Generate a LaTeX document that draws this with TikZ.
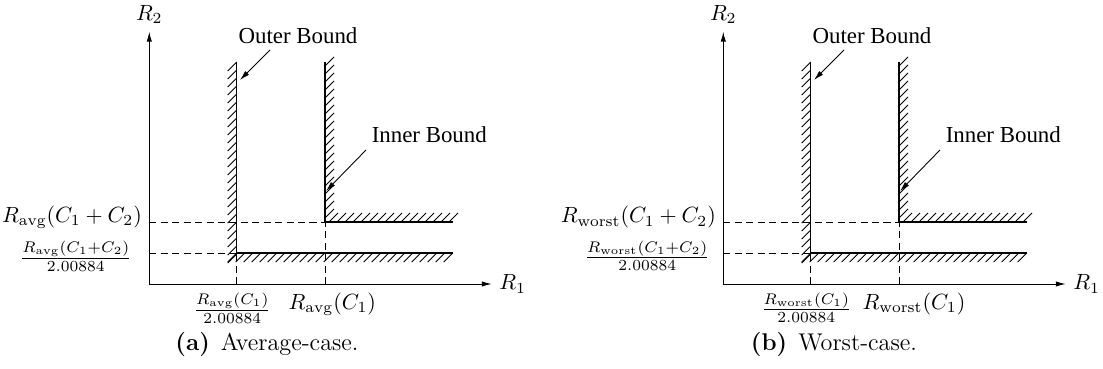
\documentclass[tikz,border=0pt]{standalone}
\usepackage{amsmath,amssymb}
\usepackage{fontspec}
\newfontfamily\timesfont{Liberation Serif}
\usetikzlibrary{positioning,calc,arrows.meta}
\tikzset{>={Latex[length=4.5pt,width=2.4pt]}}
\tikzset{hatch/.style={line width=0.4pt}}
\tikzset{bound/.style={line width=0.5pt}}
\tikzset{guide/.style={line width=0.4pt,dash pattern=on 3.2pt off 2pt}}
\tikzset{boundlbl/.style={font=\timesfont\fontsize{10.4}{12}\selectfont}}
\tikzset{caplbl/.style={font=\fontsize{11}{13}\selectfont}}

\begin{document}
\begin{tikzpicture}[x=0.4545pt,y=0.4545pt]
	\useasboundingbox (0,0) rectangle (1103,369);
	\foreach \sx/\sub/\tg/\cpt/\fx/\cx in {149.3/avg/a/Average-case./-17/117.7, 723.3/worst/b/Worst-case./-13/110.7}{
	\begin{scope}[shift={(\sx,85)}]
		\coordinate (o) at (0,0);
		\coordinate (xend) at (342.4,0);
		\coordinate (yend) at (0,252.3);
		\draw[->] (o) -- (xend);
		\draw[->] (o) -- (yend);
		\node[right] (xlbl) at (xend) {$R_1$};
		\node[above] (ylbl) at (yend) {$R_2$};
		% outer bound
		\coordinate (otop) at (87.4,222);
		\coordinate (ocorner) at (87.4,31);
		\coordinate (oend) at (303.7,31);
		\foreach \y in {30,38,...,222} \draw[hatch] (87.4,\y) -- ++(-9,-9);
		\foreach \x in {87.4,95.4,...,304} \draw[hatch] (\x,31) -- ++(-9,-9);
		\draw[bound] (otop) -- (ocorner) -- (oend);
		% inner bound
		\coordinate (itop) at (175.7,222);
		\coordinate (icorner) at (175.7,62);
		\coordinate (iend) at (303.7,62);
		\foreach \y in {66,74,...,218} \draw[hatch] (175.7,\y) -- ++(9,9);
		\foreach \x in {179.7,187.7,...,300} \draw[hatch] (\x,62) -- ++(9,9);
		\draw[bound] (itop) -- (icorner) -- (iend);
		% guides
		\coordinate (ysum) at (0,62);
		\coordinate (yhalf) at (0,31);
		\coordinate (xhalf) at (87.4,0);
		\coordinate (xone) at (175.7,0);
		\draw[guide] (ysum) -- (icorner);
		\draw[guide] (yhalf) -- (ocorner);
		\draw[guide] (xhalf) -- (ocorner);
		\draw[guide] (xone) -- (icorner);
		% tick labels
		\node[anchor=east,inner sep=0pt] (ysumlbl) at (-7,66.5) {$R_{\mathrm{\sub}}(C_1+C_2)$};
		\node[anchor=east,inner sep=0pt] (yhalflbl) at (\fx,28) {$\frac{R_{\mathrm{\sub}}(C_1+C_2)}{2.00884}$};
		\node[inner sep=0pt] (xhalflbl) at (83,-24) {$\frac{R_{\mathrm{\sub}}(C_1)}{2.00884}$};
		\node[anchor=west,inner sep=0pt] (xonelbl) at (139,-20) {$R_{\mathrm{\sub}}(C_1)$};
		% bound labels
		\node[boundlbl] (outerlbl) at (148.7,248.5) {Outer Bound};
		\node[boundlbl] (innerlbl) at (280,149) {Inner Bound};
		\coordinate (otail) at (120.7,234);
		\coordinate (otip) at (90.7,204);
		\coordinate (itail) at (216.7,134);
		\coordinate (itip) at (176.7,93);
		\draw[->] (otail) -- (otip);
		\draw[->] (itail) -- (itip);
		\node[caplbl] (cap) at (\cx,-60) {\textbf{(\tg)}\hspace{5pt}\cpt};
	\end{scope}
	}
\end{tikzpicture}
\end{document}
